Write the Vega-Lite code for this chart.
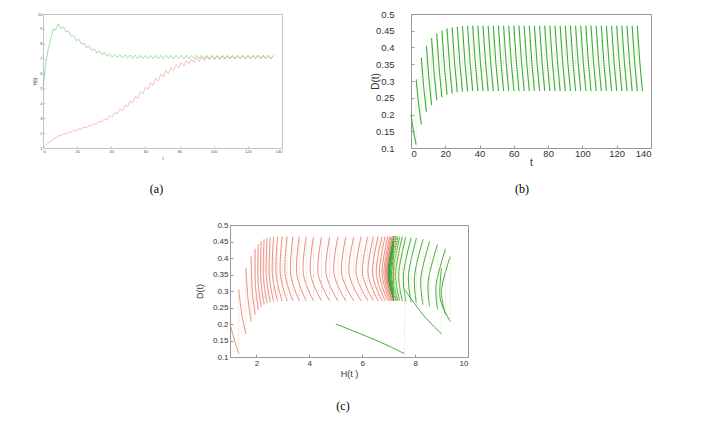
{
"$schema": "https://vega.github.io/schema/vega-lite/v6.json",
"padding": {"left": 32, "top": 8, "right": 5, "bottom": 5},
"background": "white",
"config": {"view": {"stroke": null}},
"datasets": {"traj": [
{"s":"r","k":0,"t":0,"H":1.00,"D":0.200},{"s":"r","k":0,"t":1.5,"H":1.18,"D":0.148},{"s":"r","k":0,"t":3,"H":1.33,"D":0.110},
{"s":"r","k":1,"t":3,"H":1.33,"D":0.305},{"s":"r","k":1,"t":4.5,"H":1.45,"D":0.228},{"s":"r","k":1,"t":6,"H":1.60,"D":0.170},
{"s":"r","k":2,"t":6,"H":1.60,"D":0.370},{"s":"r","k":2,"t":7.5,"H":1.68,"D":0.277},{"s":"r","k":2,"t":9,"H":1.80,"D":0.208},
{"s":"r","k":3,"t":9,"H":1.80,"D":0.405},{"s":"r","k":3,"t":10.5,"H":1.84,"D":0.304},{"s":"r","k":3,"t":12,"H":1.95,"D":0.228},
{"s":"r","k":4,"t":12,"H":1.95,"D":0.428},{"s":"r","k":4,"t":13.5,"H":1.96,"D":0.322},{"s":"r","k":4,"t":15,"H":2.07,"D":0.243},
{"s":"r","k":5,"t":15,"H":2.07,"D":0.442},{"s":"r","k":5,"t":16.5,"H":2.06,"D":0.333},{"s":"r","k":5,"t":18,"H":2.18,"D":0.252},
{"s":"r","k":6,"t":18,"H":2.18,"D":0.451},{"s":"r","k":6,"t":19.5,"H":2.16,"D":0.342},{"s":"r","k":6,"t":21,"H":2.29,"D":0.259},
{"s":"r","k":7,"t":21,"H":2.29,"D":0.457},{"s":"r","k":7,"t":22.5,"H":2.26,"D":0.347},{"s":"r","k":7,"t":24,"H":2.40,"D":0.263},
{"s":"r","k":8,"t":24,"H":2.40,"D":0.460},{"s":"r","k":8,"t":25.5,"H":2.37,"D":0.350},{"s":"r","k":8,"t":27,"H":2.52,"D":0.266},
{"s":"r","k":9,"t":27,"H":2.52,"D":0.462},{"s":"r","k":9,"t":28.5,"H":2.48,"D":0.352},{"s":"r","k":9,"t":30,"H":2.65,"D":0.268},
{"s":"r","k":10,"t":30,"H":2.65,"D":0.464},{"s":"r","k":10,"t":31.5,"H":2.60,"D":0.353},{"s":"r","k":10,"t":33,"H":2.80,"D":0.269},
{"s":"r","k":11,"t":33,"H":2.80,"D":0.465},{"s":"r","k":11,"t":34.5,"H":2.74,"D":0.354},{"s":"r","k":11,"t":36,"H":2.97,"D":0.270},
{"s":"r","k":12,"t":36,"H":2.97,"D":0.465},{"s":"r","k":12,"t":37.5,"H":2.90,"D":0.354},{"s":"r","k":12,"t":39,"H":3.16,"D":0.270},
{"s":"r","k":13,"t":39,"H":3.16,"D":0.465},{"s":"r","k":13,"t":40.5,"H":3.08,"D":0.354},{"s":"r","k":13,"t":42,"H":3.38,"D":0.270},
{"s":"r","k":14,"t":42,"H":3.38,"D":0.465},{"s":"r","k":14,"t":43.5,"H":3.29,"D":0.354},{"s":"r","k":14,"t":45,"H":3.62,"D":0.270},
{"s":"r","k":15,"t":45,"H":3.62,"D":0.465},{"s":"r","k":15,"t":46.5,"H":3.52,"D":0.354},{"s":"r","k":15,"t":48,"H":3.88,"D":0.270},
{"s":"r","k":16,"t":48,"H":3.88,"D":0.465},{"s":"r","k":16,"t":49.5,"H":3.77,"D":0.354},{"s":"r","k":16,"t":51,"H":4.16,"D":0.270},
{"s":"r","k":17,"t":51,"H":4.16,"D":0.465},{"s":"r","k":17,"t":52.5,"H":4.04,"D":0.354},{"s":"r","k":17,"t":54,"H":4.46,"D":0.270},
{"s":"r","k":18,"t":54,"H":4.46,"D":0.465},{"s":"r","k":18,"t":55.5,"H":4.33,"D":0.354},{"s":"r","k":18,"t":57,"H":4.77,"D":0.270},
{"s":"r","k":19,"t":57,"H":4.77,"D":0.465},{"s":"r","k":19,"t":58.5,"H":4.63,"D":0.354},{"s":"r","k":19,"t":60,"H":5.08,"D":0.270},
{"s":"r","k":20,"t":60,"H":5.08,"D":0.465},{"s":"r","k":20,"t":61.5,"H":4.93,"D":0.354},{"s":"r","k":20,"t":63,"H":5.38,"D":0.270},
{"s":"r","k":21,"t":63,"H":5.38,"D":0.465},{"s":"r","k":21,"t":64.5,"H":5.22,"D":0.354},{"s":"r","k":21,"t":66,"H":5.68,"D":0.270},
{"s":"r","k":22,"t":66,"H":5.68,"D":0.465},{"s":"r","k":22,"t":67.5,"H":5.50,"D":0.354},{"s":"r","k":22,"t":69,"H":5.96,"D":0.270},
{"s":"r","k":23,"t":69,"H":5.96,"D":0.465},{"s":"r","k":23,"t":70.5,"H":5.77,"D":0.354},{"s":"r","k":23,"t":72,"H":6.21,"D":0.270},
{"s":"r","k":24,"t":72,"H":6.21,"D":0.465},{"s":"r","k":24,"t":73.5,"H":6.01,"D":0.354},{"s":"r","k":24,"t":75,"H":6.42,"D":0.270},
{"s":"r","k":25,"t":75,"H":6.42,"D":0.465},{"s":"r","k":25,"t":76.5,"H":6.22,"D":0.354},{"s":"r","k":25,"t":78,"H":6.60,"D":0.270},
{"s":"r","k":26,"t":78,"H":6.60,"D":0.465},{"s":"r","k":26,"t":79.5,"H":6.39,"D":0.354},{"s":"r","k":26,"t":81,"H":6.75,"D":0.270},
{"s":"r","k":27,"t":81,"H":6.75,"D":0.465},{"s":"r","k":27,"t":82.5,"H":6.53,"D":0.354},{"s":"r","k":27,"t":84,"H":6.87,"D":0.270},
{"s":"r","k":28,"t":84,"H":6.87,"D":0.465},{"s":"r","k":28,"t":85.5,"H":6.65,"D":0.354},{"s":"r","k":28,"t":87,"H":6.97,"D":0.270},
{"s":"r","k":29,"t":87,"H":6.97,"D":0.465},{"s":"r","k":29,"t":88.5,"H":6.75,"D":0.354},{"s":"r","k":29,"t":90,"H":7.04,"D":0.270},
{"s":"r","k":30,"t":90,"H":7.04,"D":0.465},{"s":"r","k":30,"t":91.5,"H":6.82,"D":0.354},{"s":"r","k":30,"t":93,"H":7.09,"D":0.270},
{"s":"r","k":31,"t":93,"H":7.09,"D":0.465},{"s":"r","k":31,"t":94.5,"H":6.87,"D":0.354},{"s":"r","k":31,"t":96,"H":7.13,"D":0.270},
{"s":"r","k":32,"t":96,"H":7.13,"D":0.465},{"s":"r","k":32,"t":97.5,"H":6.91,"D":0.354},{"s":"r","k":32,"t":99,"H":7.15,"D":0.270},
{"s":"r","k":33,"t":99,"H":7.15,"D":0.465},{"s":"r","k":33,"t":100.5,"H":6.93,"D":0.354},{"s":"r","k":33,"t":102,"H":7.17,"D":0.270},
{"s":"r","k":34,"t":102,"H":7.17,"D":0.465},{"s":"r","k":34,"t":103.5,"H":6.95,"D":0.354},{"s":"r","k":34,"t":105,"H":7.18,"D":0.270},
{"s":"r","k":35,"t":105,"H":7.18,"D":0.465},{"s":"r","k":35,"t":106.5,"H":6.96,"D":0.354},{"s":"r","k":35,"t":108,"H":7.19,"D":0.270},
{"s":"r","k":36,"t":108,"H":7.19,"D":0.465},{"s":"r","k":36,"t":109.5,"H":6.97,"D":0.354},{"s":"r","k":36,"t":111,"H":7.20,"D":0.270},
{"s":"r","k":37,"t":111,"H":7.20,"D":0.465},{"s":"r","k":37,"t":112.5,"H":6.98,"D":0.354},{"s":"r","k":37,"t":114,"H":7.21,"D":0.270},
{"s":"r","k":38,"t":114,"H":7.21,"D":0.465},{"s":"r","k":38,"t":115.5,"H":6.99,"D":0.354},{"s":"r","k":38,"t":117,"H":7.21,"D":0.270},
{"s":"r","k":39,"t":117,"H":7.21,"D":0.465},{"s":"r","k":39,"t":118.5,"H":7.00,"D":0.354},{"s":"r","k":39,"t":120,"H":7.22,"D":0.270},
{"s":"r","k":40,"t":120,"H":7.22,"D":0.465},{"s":"r","k":40,"t":121.5,"H":7.00,"D":0.354},{"s":"r","k":40,"t":123,"H":7.22,"D":0.270},
{"s":"r","k":41,"t":123,"H":7.22,"D":0.465},{"s":"r","k":41,"t":124.5,"H":7.00,"D":0.354},{"s":"r","k":41,"t":126,"H":7.22,"D":0.270},
{"s":"r","k":42,"t":126,"H":7.22,"D":0.465},{"s":"r","k":42,"t":127.5,"H":7.00,"D":0.354},{"s":"r","k":42,"t":129,"H":7.22,"D":0.270},
{"s":"r","k":43,"t":129,"H":7.22,"D":0.465},{"s":"r","k":43,"t":130.5,"H":7.00,"D":0.354},{"s":"r","k":43,"t":132,"H":7.22,"D":0.270},
{"s":"r","k":44,"t":132,"H":7.22,"D":0.465},{"s":"r","k":44,"t":133.5,"H":7.00,"D":0.354},{"s":"r","k":44,"t":135,"H":7.22,"D":0.270},
{"s":"g","k":0,"t":0,"H":5.00,"D":0.200},{"s":"g","k":0,"t":1.5,"H":6.60,"D":0.148},{"s":"g","k":0,"t":3,"H":7.60,"D":0.110},
{"s":"g","k":1,"t":3,"H":7.60,"D":0.305},{"s":"g","k":1,"t":4.5,"H":8.30,"D":0.228},{"s":"g","k":1,"t":6,"H":9.00,"D":0.170},
{"s":"g","k":2,"t":6,"H":9.00,"D":0.370},{"s":"g","k":2,"t":7.5,"H":8.95,"D":0.277},{"s":"g","k":2,"t":9,"H":9.33,"D":0.208},
{"s":"g","k":3,"t":9,"H":9.33,"D":0.405},{"s":"g","k":3,"t":10.5,"H":9.00,"D":0.304},{"s":"g","k":3,"t":12,"H":9.15,"D":0.228},
{"s":"g","k":4,"t":12,"H":9.15,"D":0.428},{"s":"g","k":4,"t":13.5,"H":8.80,"D":0.322},{"s":"g","k":4,"t":15,"H":8.85,"D":0.243},
{"s":"g","k":5,"t":15,"H":8.85,"D":0.442},{"s":"g","k":5,"t":16.5,"H":8.50,"D":0.333},{"s":"g","k":5,"t":18,"H":8.55,"D":0.252},
{"s":"g","k":6,"t":18,"H":8.55,"D":0.451},{"s":"g","k":6,"t":19.5,"H":8.22,"D":0.342},{"s":"g","k":6,"t":21,"H":8.30,"D":0.259},
{"s":"g","k":7,"t":21,"H":8.30,"D":0.457},{"s":"g","k":7,"t":22.5,"H":7.98,"D":0.347},{"s":"g","k":7,"t":24,"H":8.05,"D":0.263},
{"s":"g","k":8,"t":24,"H":8.05,"D":0.460},{"s":"g","k":8,"t":25.5,"H":7.75,"D":0.350},{"s":"g","k":8,"t":27,"H":7.85,"D":0.266},
{"s":"g","k":9,"t":27,"H":7.85,"D":0.462},{"s":"g","k":9,"t":28.5,"H":7.56,"D":0.352},{"s":"g","k":9,"t":30,"H":7.65,"D":0.268},
{"s":"g","k":10,"t":30,"H":7.65,"D":0.464},{"s":"g","k":10,"t":31.5,"H":7.38,"D":0.353},{"s":"g","k":10,"t":33,"H":7.52,"D":0.269},
{"s":"g","k":11,"t":33,"H":7.52,"D":0.465},{"s":"g","k":11,"t":34.5,"H":7.26,"D":0.354},{"s":"g","k":11,"t":36,"H":7.42,"D":0.270},
{"s":"g","k":12,"t":36,"H":7.42,"D":0.465},{"s":"g","k":12,"t":37.5,"H":7.17,"D":0.354},{"s":"g","k":12,"t":39,"H":7.35,"D":0.270},
{"s":"g","k":13,"t":39,"H":7.35,"D":0.465},{"s":"g","k":13,"t":40.5,"H":7.11,"D":0.354},{"s":"g","k":13,"t":42,"H":7.30,"D":0.270},
{"s":"g","k":14,"t":42,"H":7.30,"D":0.465},{"s":"g","k":14,"t":43.5,"H":7.07,"D":0.354},{"s":"g","k":14,"t":45,"H":7.27,"D":0.270},
{"s":"g","k":15,"t":45,"H":7.27,"D":0.465},{"s":"g","k":15,"t":46.5,"H":7.04,"D":0.354},{"s":"g","k":15,"t":48,"H":7.25,"D":0.270},
{"s":"g","k":16,"t":48,"H":7.25,"D":0.465},{"s":"g","k":16,"t":49.5,"H":7.02,"D":0.354},{"s":"g","k":16,"t":51,"H":7.24,"D":0.270},
{"s":"g","k":17,"t":51,"H":7.24,"D":0.465},{"s":"g","k":17,"t":52.5,"H":7.01,"D":0.354},{"s":"g","k":17,"t":54,"H":7.23,"D":0.270},
{"s":"g","k":18,"t":54,"H":7.23,"D":0.465},{"s":"g","k":18,"t":55.5,"H":7.00,"D":0.354},{"s":"g","k":18,"t":57,"H":7.22,"D":0.270},
{"s":"g","k":19,"t":57,"H":7.22,"D":0.465},{"s":"g","k":19,"t":58.5,"H":7.00,"D":0.354},{"s":"g","k":19,"t":60,"H":7.22,"D":0.270},
{"s":"g","k":20,"t":60,"H":7.22,"D":0.465},{"s":"g","k":20,"t":61.5,"H":7.00,"D":0.354},{"s":"g","k":20,"t":63,"H":7.22,"D":0.270},
{"s":"g","k":21,"t":63,"H":7.22,"D":0.465},{"s":"g","k":21,"t":64.5,"H":7.00,"D":0.354},{"s":"g","k":21,"t":66,"H":7.22,"D":0.270},
{"s":"g","k":22,"t":66,"H":7.22,"D":0.465},{"s":"g","k":22,"t":67.5,"H":7.00,"D":0.354},{"s":"g","k":22,"t":69,"H":7.22,"D":0.270},
{"s":"g","k":23,"t":69,"H":7.22,"D":0.465},{"s":"g","k":23,"t":70.5,"H":7.00,"D":0.354},{"s":"g","k":23,"t":72,"H":7.22,"D":0.270},
{"s":"g","k":24,"t":72,"H":7.22,"D":0.465},{"s":"g","k":24,"t":73.5,"H":7.00,"D":0.354},{"s":"g","k":24,"t":75,"H":7.22,"D":0.270},
{"s":"g","k":25,"t":75,"H":7.22,"D":0.465},{"s":"g","k":25,"t":76.5,"H":7.00,"D":0.354},{"s":"g","k":25,"t":78,"H":7.22,"D":0.270},
{"s":"g","k":26,"t":78,"H":7.22,"D":0.465},{"s":"g","k":26,"t":79.5,"H":7.00,"D":0.354},{"s":"g","k":26,"t":81,"H":7.22,"D":0.270},
{"s":"g","k":27,"t":81,"H":7.22,"D":0.465},{"s":"g","k":27,"t":82.5,"H":7.00,"D":0.354},{"s":"g","k":27,"t":84,"H":7.22,"D":0.270},
{"s":"g","k":28,"t":84,"H":7.22,"D":0.465},{"s":"g","k":28,"t":85.5,"H":7.00,"D":0.354},{"s":"g","k":28,"t":87,"H":7.22,"D":0.270},
{"s":"g","k":29,"t":87,"H":7.22,"D":0.465},{"s":"g","k":29,"t":88.5,"H":7.00,"D":0.354},{"s":"g","k":29,"t":90,"H":7.22,"D":0.270},
{"s":"g","k":30,"t":90,"H":7.22,"D":0.465},{"s":"g","k":30,"t":91.5,"H":7.00,"D":0.354},{"s":"g","k":30,"t":93,"H":7.22,"D":0.270},
{"s":"g","k":31,"t":93,"H":7.22,"D":0.465},{"s":"g","k":31,"t":94.5,"H":7.00,"D":0.354},{"s":"g","k":31,"t":96,"H":7.22,"D":0.270},
{"s":"g","k":32,"t":96,"H":7.22,"D":0.465},{"s":"g","k":32,"t":97.5,"H":7.00,"D":0.354},{"s":"g","k":32,"t":99,"H":7.22,"D":0.270},
{"s":"g","k":33,"t":99,"H":7.22,"D":0.465},{"s":"g","k":33,"t":100.5,"H":7.00,"D":0.354},{"s":"g","k":33,"t":102,"H":7.22,"D":0.270},
{"s":"g","k":34,"t":102,"H":7.22,"D":0.465},{"s":"g","k":34,"t":103.5,"H":7.00,"D":0.354},{"s":"g","k":34,"t":105,"H":7.22,"D":0.270},
{"s":"g","k":35,"t":105,"H":7.22,"D":0.465},{"s":"g","k":35,"t":106.5,"H":7.00,"D":0.354},{"s":"g","k":35,"t":108,"H":7.22,"D":0.270},
{"s":"g","k":36,"t":108,"H":7.22,"D":0.465},{"s":"g","k":36,"t":109.5,"H":7.00,"D":0.354},{"s":"g","k":36,"t":111,"H":7.22,"D":0.270},
{"s":"g","k":37,"t":111,"H":7.22,"D":0.465},{"s":"g","k":37,"t":112.5,"H":7.00,"D":0.354},{"s":"g","k":37,"t":114,"H":7.22,"D":0.270},
{"s":"g","k":38,"t":114,"H":7.22,"D":0.465},{"s":"g","k":38,"t":115.5,"H":7.00,"D":0.354},{"s":"g","k":38,"t":117,"H":7.22,"D":0.270},
{"s":"g","k":39,"t":117,"H":7.22,"D":0.465},{"s":"g","k":39,"t":118.5,"H":7.00,"D":0.354},{"s":"g","k":39,"t":120,"H":7.22,"D":0.270},
{"s":"g","k":40,"t":120,"H":7.22,"D":0.465},{"s":"g","k":40,"t":121.5,"H":7.00,"D":0.354},{"s":"g","k":40,"t":123,"H":7.22,"D":0.270},
{"s":"g","k":41,"t":123,"H":7.22,"D":0.465},{"s":"g","k":41,"t":124.5,"H":7.00,"D":0.354},{"s":"g","k":41,"t":126,"H":7.22,"D":0.270},
{"s":"g","k":42,"t":126,"H":7.22,"D":0.465},{"s":"g","k":42,"t":127.5,"H":7.00,"D":0.354},{"s":"g","k":42,"t":129,"H":7.22,"D":0.270},
{"s":"g","k":43,"t":129,"H":7.22,"D":0.465},{"s":"g","k":43,"t":130.5,"H":7.00,"D":0.354},{"s":"g","k":43,"t":132,"H":7.22,"D":0.270},
{"s":"g","k":44,"t":132,"H":7.22,"D":0.465},{"s":"g","k":44,"t":133.5,"H":7.00,"D":0.354},{"s":"g","k":44,"t":135,"H":7.22,"D":0.270}
]},
"spacing": 25,
"vconcat": [
{"bounds": "flush", "spacing": 129, "hconcat": [
 {"width": 239, "height": 134,
  "view": {"stroke": "#c4c4c4"},
  "title": {"text": "(a)", "orient": "bottom", "font": "Liberation Serif", "fontSize": 12, "fontWeight": "normal", "color": "#000", "offset": 24, "dx": -6},
  "data": {"name": "traj"},
  "mark": {"type": "line", "strokeWidth": 0.7},
  "encoding": {
   "x": {"field": "t", "type": "quantitative", "scale": {"domain": [0, 140], "nice": false},
    "axis": {"values": [0,20,40,60,80,100,120,140], "title": "t", "labelFontSize": 4, "titleFontSize": 4.5, "titleFontWeight": "normal", "labelFont": "Liberation Sans", "titleFont": "Liberation Sans", "labelColor": "#555", "titleColor": "#555", "domainColor": "#c4c4c4", "tickColor": "#c4c4c4", "tickSize": -2, "labelPadding": 3, "titlePadding": 2, "grid": false}},
   "y": {"field": "H", "type": "quantitative", "scale": {"domain": [1, 10], "nice": false},
    "axis": {"values": [1,2,3,4,5,6,7,8,9,10], "title": "H(t)", "labelFontSize": 4, "titleFontSize": 4.5, "titleFontWeight": "normal", "labelFont": "Liberation Sans", "titleFont": "Liberation Sans", "labelColor": "#555", "titleColor": "#555", "domainColor": "#c4c4c4", "tickColor": "#c4c4c4", "tickSize": -2, "labelPadding": 3, "titlePadding": 0, "grid": false}},
   "color": {"field": "s", "type": "nominal", "scale": {"domain": ["g", "r"], "range": ["#7fcc7f", "#f3a29a"]}, "legend": null},
   "order": {"field": "t"}
  }
 },
 {"width": 240, "height": 134,
  "view": {"stroke": "#999"},
  "title": {"text": "(b)", "orient": "bottom", "font": "Liberation Serif", "fontSize": 12, "fontWeight": "normal", "color": "#000", "offset": 16, "dx": -9},
  "data": {"name": "traj"},
  "transform": [{"filter": "datum.s == 'g'"}],
  "encoding": {
   "x": {"field": "t", "type": "quantitative", "scale": {"domain": [0, 140], "nice": false},
    "axis": {"values": [0,20,40,60,80,100,120,140], "title": "t", "labelFontSize": 9.5, "titleFontSize": 10, "titleFontWeight": "normal", "labelFont": "Liberation Sans", "titleFont": "Liberation Sans", "labelColor": "#333", "titleColor": "#333", "domainColor": "#999", "tickColor": "#999", "tickSize": -3, "labelPadding": 3, "titlePadding": 0, "grid": false}},
   "y": {"field": "D", "type": "quantitative", "scale": {"domain": [0.1, 0.5], "nice": false},
    "axis": {"values": [0.1,0.15,0.2,0.25,0.3,0.35,0.4,0.45,0.5], "format": "~g", "title": "D(t)", "labelFontSize": 9.5, "titleFontSize": 10, "titleFontWeight": "normal", "labelFont": "Liberation Sans", "titleFont": "Liberation Sans", "labelColor": "#333", "titleColor": "#333", "domainColor": "#999", "tickColor": "#999", "tickSize": -3, "labelPadding": 20, "titlePadding": -5, "grid": false}}
  },
  "layer": [
   {"mark": {"type": "line", "color": "#cfe39a", "strokeWidth": 1, "strokeDash": [1, 1.5]}, "encoding": {"detail": {"field": "t", "type": "nominal"}}},
   {"mark": {"type": "line", "color": "#3dae3d", "strokeWidth": 1.1}, "encoding": {"detail": {"field": "k", "type": "nominal"}, "order": {"field": "t"}}}
  ]
 }
]},
{"bounds": "flush", "spacing": 0, "hconcat": [
 {"width": 187, "height": 1, "view": {"stroke": null}, "data": {"values": []}, "mark": "point"},
 {"width": 238, "height": 132,
 "view": {"stroke": "#999"},
 "title": {"text": "(c)", "orient": "bottom", "font": "Liberation Serif", "fontSize": 12, "fontWeight": "normal", "color": "#000", "offset": 23, "dx": -6},
 "data": {"name": "traj"},
 "encoding": {
  "x": {"field": "H", "type": "quantitative", "scale": {"domain": [1, 10], "nice": false},
   "axis": {"values": [2,4,6,8,10], "title": "H(t )", "labelFontSize": 8, "titleFontSize": 9, "titleFontWeight": "normal", "labelFont": "Liberation Sans", "titleFont": "Liberation Sans", "labelColor": "#333", "titleColor": "#333", "domainColor": "#999", "tickColor": "#999", "tickSize": -3, "labelPadding": 5, "titlePadding": 2, "grid": false}},
  "y": {"field": "D", "type": "quantitative", "scale": {"domain": [0.1, 0.5], "nice": false},
   "axis": {"values": [0.1,0.15,0.2,0.25,0.3,0.35,0.4,0.45,0.5], "format": "~g", "title": "D(t)", "labelFontSize": 8, "titleFontSize": 9, "titleFontWeight": "normal", "labelFont": "Liberation Sans", "titleFont": "Liberation Sans", "labelColor": "#333", "titleColor": "#333", "domainColor": "#999", "tickColor": "#999", "tickSize": -3, "labelPadding": 5, "titlePadding": 8, "grid": false}}
 },
 "layer": [
  {"transform": [{"filter": "datum.s == 'r'"}], "mark": {"type": "line", "color": "#e8806c", "strokeWidth": 0.9, "interpolate": "cardinal"}, "encoding": {"detail": {"field": "k", "type": "nominal"}, "order": {"field": "t"}}},
  {"transform": [{"filter": "datum.s == 'r'"}], "mark": {"type": "line", "color": "#f3b5a6", "strokeWidth": 0.8, "strokeDash": [1, 1.5]}, "encoding": {"detail": {"field": "t", "type": "nominal"}}},
  {"transform": [{"filter": "datum.s == 'g'"}], "mark": {"type": "line", "color": "#3aaa3a", "strokeWidth": 1, "interpolate": "cardinal"}, "encoding": {"detail": {"field": "k", "type": "nominal"}, "order": {"field": "t"}}},
  {"transform": [{"filter": "datum.s == 'g'"}], "mark": {"type": "line", "color": "#d3e08c", "strokeWidth": 0.8, "strokeDash": [1, 1.5]}, "encoding": {"detail": {"field": "t", "type": "nominal"}}}
 ]
 }
]}
]
}
